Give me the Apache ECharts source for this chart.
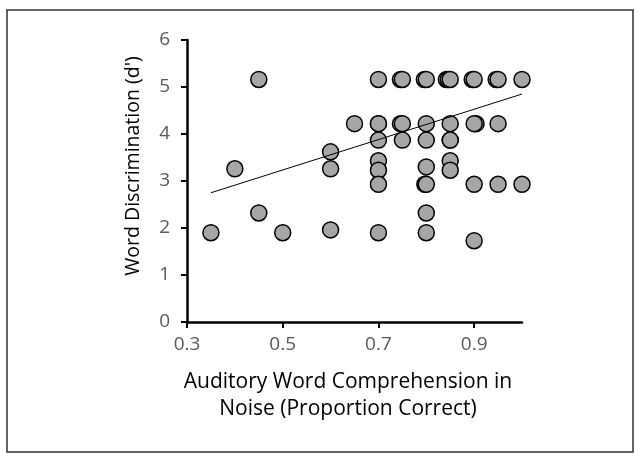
<!DOCTYPE html>
<html>
<head>
<meta charset="utf-8">
<script src="https://cdn.jsdelivr.net/npm/echarts@6/dist/echarts.min.js"></script>
<style>
  html, body { margin: 0; padding: 0; background: #fff; }
  #chart { width: 640px; height: 458px; }
</style>
</head>
<body>
<div id="chart"></div>
<script>
// proportion correct (x) and d' (y), one pair per participant
const comprehension = [
  0.35, 0.40, 0.45, 0.45, 0.50, 0.60, 0.60, 0.60, 0.65,
  0.70, 0.70, 0.70, 0.70, 0.70, 0.70, 0.70, 0.70,
  0.746, 0.75, 0.746, 0.75, 0.75,
  0.796, 0.80, 0.80, 0.80, 0.80, 0.797, 0.80, 0.80, 0.80,
  0.842, 0.846, 0.85, 0.85, 0.85, 0.85, 0.85, 0.85,
  0.896, 0.90, 0.904, 0.90, 0.90, 0.90,
  0.946, 0.95, 0.95, 0.95,
  1.0, 1.0
];
const discrimination = [
  1.90, 3.26, 5.16, 2.32, 1.90, 3.62, 3.26, 1.96, 4.22,
  5.16, 4.22, 4.22, 3.87, 3.43, 3.23, 2.93, 1.90,
  5.16, 5.16, 4.22, 4.22, 3.87,
  5.16, 5.16, 4.22, 3.87, 3.30, 2.93, 2.93, 2.32, 1.90,
  5.16, 5.16, 5.16, 4.22, 3.87, 3.87, 3.43, 3.23,
  5.16, 5.16, 4.22, 4.22, 2.93, 1.73,
  5.16, 5.16, 4.22, 2.93,
  5.16, 2.93
];
// linear fit drawn in the figure, read at its two ends
const trendX = [0.35, 1.0];
const trendY = [2.75, 4.85];

const xTicks = [0.3, 0.5, 0.7, 0.9];

const chart = echarts.init(document.getElementById('chart'));
const labelColor = '#595959';
const font = 'Open Sans';

chart.setOption({
  backgroundColor: '#fff',
  animation: false,
  grid: {left: 187, right: 118, top: 40, bottom: 136},
  xAxis: {
    type: 'value', min: 0.3, max: 1.0, interval: 0.2,
    splitLine: {show: false},
    axisLine: {onZero: false, lineStyle: {color: '#000', width: 2.5}},
    axisTick: {customValues: xTicks, length: 6, lineStyle: {color: '#000', width: 2}},
    axisLabel: {
      customValues: xTicks, margin: 13, color: labelColor, fontSize: 19, fontFamily: font,
      formatter: (v) => v.toFixed(1)
    }
  },
  yAxis: {
    type: 'value', min: 0, max: 6, interval: 1,
    splitLine: {show: false},
    axisLine: {show: true, lineStyle: {color: '#000', width: 2.5}},
    axisTick: {show: true, length: 6, lineStyle: {color: '#000', width: 2}},
    axisLabel: {margin: 17, color: labelColor, fontSize: 19, fontFamily: font}
  },
  graphic: [
    {type: 'rect', shape: {x: 7, y: 10, width: 626, height: 442}, silent: true,
     style: {fill: 'none', stroke: '#303030', lineWidth: 1.5}},
    {type: 'text', x: 133, y: 166, rotation: Math.PI / 2, silent: true,
     style: {text: "Word Discrimination (d')", font: '19.5px "Open Sans"', fill: '#000',
             textAlign: 'center', textVerticalAlign: 'middle'}},
    {type: 'text', x: 348, y: 396, silent: true,
     style: {text: 'Auditory Word Comprehension in\nNoise (Proportion Correct)', font: '21px "Open Sans"',
             fill: '#000', textAlign: 'center', textVerticalAlign: 'middle', lineHeight: 27}}
  ],
  series: [
    {
      type: 'scatter',
      symbol: 'circle',
      symbolSize: 16,
      itemStyle: {color: '#a6a6a6', borderColor: '#000', borderWidth: 1.5, opacity: 1},
      data: comprehension.map((x, i) => [x, discrimination[i]]),
      z: 2
    },
    {
      type: 'line',
      data: trendX.map((x, i) => [x, trendY[i]]),
      showSymbol: false,
      lineStyle: {color: '#000', width: 1},
      z: 3
    }
  ]
});
</script>
</body>
</html>
